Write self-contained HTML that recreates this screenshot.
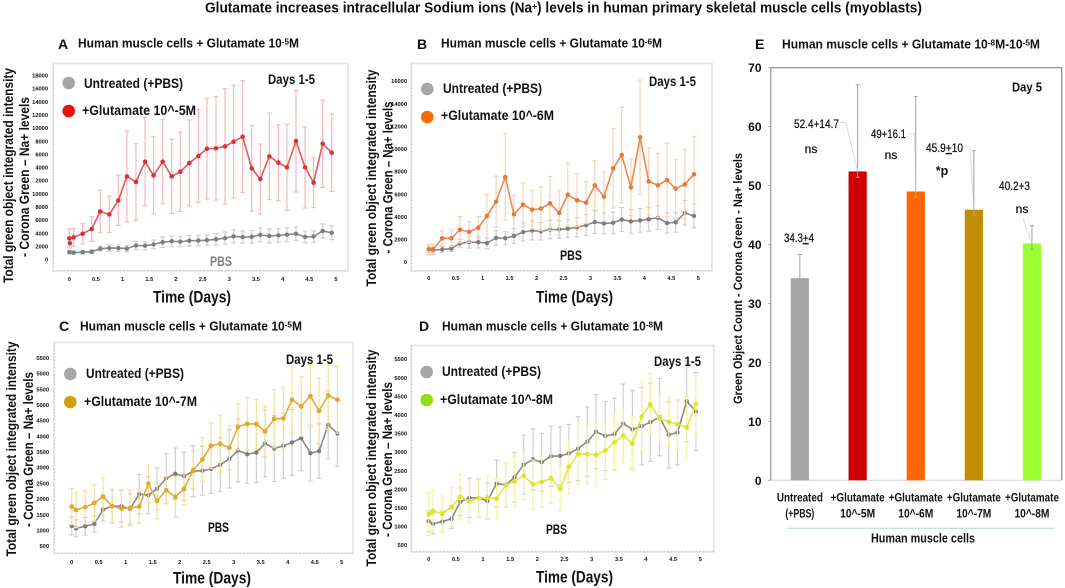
<!DOCTYPE html>
<html lang="en">
<head>
<meta charset="utf-8">
<title>Glutamate increases intracellular Sodium ions</title>
<style>
html,body{margin:0;padding:0;background:#fff;width:1065px;height:588px;overflow:hidden}
svg{display:block;filter:blur(0.35px)}
text{font-family:"Liberation Sans",Arial,sans-serif;font-weight:bold;fill:#111}
.tk{font-size:5.7px;fill:#111}
.yt{font-size:13.5px}
.hd{font-size:12.5px}
.lg{font-size:14px}
.tm{font-size:17px}
.ann{font-size:12px;font-weight:normal;stroke:#111;stroke-width:.25}
.xc{font-size:12px}
</style>
</head>
<body>
<svg id="fig" xmlns="http://www.w3.org/2000/svg" width="1065" height="588" viewBox="0 0 1065 588">
<rect x="0" y="0" width="1065" height="588" fill="#fff"/>
<text x="205" y="12.5" font-size="14.5" textLength="717" lengthAdjust="spacingAndGlyphs">Glutamate increases intracellular Sodium ions (Na<tspan dy="-3" font-size="9">+</tspan><tspan dy="3">) levels in human primary skeletal muscle cells (myoblasts)</tspan></text>

<text x="58" y="49" font-size="14">A</text>
<text class="hd" x="78" y="47.5" textLength="221" lengthAdjust="spacingAndGlyphs">Human muscle cells + Glutamate 10<tspan dy="-3" font-size="8.5">-5</tspan><tspan dy="3">M</tspan></text>
<text x="417" y="49" font-size="14">B</text>
<text class="hd" x="441" y="47.5" textLength="221" lengthAdjust="spacingAndGlyphs">Human muscle cells + Glutamate 10<tspan dy="-3" font-size="8.5">-6</tspan><tspan dy="3">M</tspan></text>
<text x="59" y="331" font-size="14">C</text>
<text class="hd" x="80" y="330.5" textLength="222" lengthAdjust="spacingAndGlyphs">Human muscle cells + Glutamate 10<tspan dy="-3" font-size="8.5">-5</tspan><tspan dy="3">M</tspan></text>
<text x="419" y="331" font-size="14">D</text>
<text class="hd" x="442" y="330.5" textLength="221" lengthAdjust="spacingAndGlyphs">Human muscle cells + Glutamate 10<tspan dy="-3" font-size="8.5">-8</tspan><tspan dy="3">M</tspan></text>
<text x="755" y="49" font-size="14">E</text>
<text class="hd" x="782" y="48.5" textLength="258" lengthAdjust="spacingAndGlyphs">Human muscle cells + Glutamate 10<tspan dy="-3" font-size="8.5">-8</tspan><tspan dy="3">M-10</tspan><tspan dy="-3" font-size="8.5">-5</tspan><tspan dy="3">M</tspan></text>

<g id="panels"></g>
<g id="bars"></g>

<!-- axis titles -->
<text class="yt" transform="translate(13,175.5) rotate(-90)" text-anchor="middle" textLength="215" lengthAdjust="spacingAndGlyphs">Total green object integrated intensity</text>
<text class="yt" transform="translate(29,177) rotate(-90)" text-anchor="middle" textLength="160" lengthAdjust="spacingAndGlyphs">- Corona Green – Na+ levels</text>
<text class="yt" transform="translate(376,178) rotate(-90)" text-anchor="middle" textLength="217" lengthAdjust="spacingAndGlyphs">Total green object integrated intensity</text>
<text class="yt" transform="translate(392.5,177.5) rotate(-90)" text-anchor="middle" textLength="152" lengthAdjust="spacingAndGlyphs">- Corona Green – Na+ levels</text>
<text class="yt" transform="translate(16,449) rotate(-90)" text-anchor="middle" textLength="215" lengthAdjust="spacingAndGlyphs">Total green object integrated intensity</text>
<text class="yt" transform="translate(33,449.5) rotate(-90)" text-anchor="middle" textLength="155" lengthAdjust="spacingAndGlyphs">- Corona Green – Na+ levels</text>
<text class="yt" transform="translate(376,458) rotate(-90)" text-anchor="middle" textLength="217" lengthAdjust="spacingAndGlyphs">Total green object integrated intensity</text>
<text class="yt" transform="translate(392,459.5) rotate(-90)" text-anchor="middle" textLength="155" lengthAdjust="spacingAndGlyphs">- Corona Green – Na+ levels</text>
<text font-size="11.5" transform="translate(742,278.5) rotate(-90)" text-anchor="middle" textLength="251" lengthAdjust="spacingAndGlyphs">Green Object Count - Corona Green - Na+ levels</text>

<text class="tm" x="153" y="302.5" textLength="78" lengthAdjust="spacingAndGlyphs">Time (Days)</text>
<text class="tm" x="536" y="302.5" textLength="77" lengthAdjust="spacingAndGlyphs">Time (Days)</text>
<text class="tm" x="173" y="583.5" textLength="78" lengthAdjust="spacingAndGlyphs">Time (Days)</text>
<text class="tm" x="536" y="582.5" textLength="77" lengthAdjust="spacingAndGlyphs">Time (Days)</text>

<!-- legends -->
<g>
<circle cx="68.7" cy="83" r="6.3" fill="#a6a6a6"/>
<text class="lg" x="84" y="88" textLength="99" lengthAdjust="spacingAndGlyphs">Untreated (+PBS)</text>
<circle cx="68.7" cy="111" r="6.3" fill="#ee0f0f"/>
<text class="lg" x="82" y="115" textLength="114" lengthAdjust="spacingAndGlyphs">+Glutamate 10^-5M</text>
<text class="lg" x="268" y="84" textLength="47" lengthAdjust="spacingAndGlyphs">Days 1-5</text>
<text class="lg" x="210" y="266" textLength="22" lengthAdjust="spacingAndGlyphs" style="fill:#808080">PBS</text>
</g>
<g>
<circle cx="427.3" cy="89" r="6.3" fill="#a6a6a6"/>
<text class="lg" x="443" y="93" textLength="99" lengthAdjust="spacingAndGlyphs">Untreated (+PBS)</text>
<circle cx="427.3" cy="117" r="6.3" fill="#f96a00"/>
<text class="lg" x="441" y="120" textLength="113" lengthAdjust="spacingAndGlyphs">+Glutamate 10^-6M</text>
<text class="lg" x="649" y="86" textLength="47" lengthAdjust="spacingAndGlyphs">Days 1-5</text>
<text class="lg" x="560" y="260" textLength="22" lengthAdjust="spacingAndGlyphs">PBS</text>
</g>
<g>
<circle cx="70.3" cy="374" r="6.3" fill="#a6a6a6"/>
<text class="lg" x="86" y="378" textLength="98" lengthAdjust="spacingAndGlyphs">Untreated (+PBS)</text>
<circle cx="70.3" cy="402" r="6.3" fill="#cba30c"/>
<text class="lg" x="84" y="406" textLength="113" lengthAdjust="spacingAndGlyphs">+Glutamate 10^-7M</text>
<text class="lg" x="286" y="364" textLength="47" lengthAdjust="spacingAndGlyphs">Days 1-5</text>
<text class="lg" x="208" y="532" textLength="21" lengthAdjust="spacingAndGlyphs">PBS</text>
</g>
<g>
<circle cx="426.7" cy="372" r="6.3" fill="#a6a6a6"/>
<text class="lg" x="442" y="376" textLength="99" lengthAdjust="spacingAndGlyphs">Untreated (+PBS)</text>
<circle cx="426.7" cy="400" r="6.3" fill="#94dd10"/>
<text class="lg" x="440" y="404" textLength="113" lengthAdjust="spacingAndGlyphs">+Glutamate 10^-8M</text>
<text class="lg" x="654" y="366" textLength="47" lengthAdjust="spacingAndGlyphs">Days 1-5</text>
<text class="lg" x="546" y="534" textLength="21" lengthAdjust="spacingAndGlyphs">PBS</text>
</g>

<!-- bar annotations -->
<g>
<text font-size="12.5" x="1012" y="91.5" textLength="30" lengthAdjust="spacingAndGlyphs">Day 5</text>
<text class="ann" x="784" y="242" textLength="30" lengthAdjust="spacingAndGlyphs">34.3<tspan text-decoration="underline">+</tspan>4</text>
<text class="ann" x="794" y="128" textLength="45" lengthAdjust="spacingAndGlyphs">52.4+14.7</text>
<text class="ann" x="811" y="153" text-anchor="middle">ns</text>
<text class="ann" x="871" y="138" textLength="35" lengthAdjust="spacingAndGlyphs">49+16.1</text>
<text class="ann" x="891" y="159" text-anchor="middle">ns</text>
<text class="ann" x="926" y="152" textLength="37" lengthAdjust="spacingAndGlyphs">45.9<tspan text-decoration="underline">+</tspan>10</text>
<text font-size="12.5" x="942" y="175" text-anchor="middle">*p</text>
<text class="ann" x="999" y="190" textLength="31" lengthAdjust="spacingAndGlyphs">40.2+3</text>
<text class="ann" x="1022" y="213" text-anchor="middle">ns</text>
<line x1="787" y1="528.3" x2="1054" y2="528.3" stroke="#b9d2ea" stroke-width="1"/>
<text font-size="12.5" x="871" y="542.5" textLength="104" lengthAdjust="spacingAndGlyphs">Human muscle cells</text>
</g>
</svg>

<script>
// ---------- Time-course data ----------
var days = [0,0.08,0.25,0.42,0.58,0.75,0.92,1.08,1.25,1.42,1.58,1.75,1.92,2.08,2.25,2.42,2.58,2.75,2.92,3.08,3.25,3.42,3.58,3.75,3.92,4.08,4.25,4.42,4.58,4.75,4.92];
var untreatedMean = [1149,1074,1138,1213,1670,1777,1777,1691,2160,2128,2330,2670,2809,2734,2894,2904,2968,3096,3287,3553,3436,3489,3777,3617,3702,3809,3947,3468,3532,4372,4096];
var untreatedErr = [280,270,280,260,370,530,510,480,630,590,665,790,825,770,810,780,780,860,930,995,930,965,1060,1050,1040,1050,1040,890,870,1085,1050];
var glut5Mean = [3246,3398,3956,4666,7354,6898,9028,12680,11818,14912,12832,14912,12680,13390,14709,15774,16890,16940,17245,17955,18716,13897,12274,15723,14760,14049,18056,14049,11716,17651,16281];
var glut5Err = [1445,1318,1521,1877,3246,2790,3804,6949,5833,6695,5884,6391,5630,6036,6543,7050,7659,7862,8775,8572,8521,6492,5326,6594,5782,6543,7760,6188,3804,6644,5884];
var glut6Mean = [1149,1149,2121,2121,2887,2680,3063,4094,5361,7540,4242,5096,4654,4742,5214,4359,5979,5479,5272,6804,5803,8306,9484,6627,11046,7158,6804,7275,6510,6893,7776];
var glut6Err = [471,471,648,707,1149,913,972,1915,2268,3800,1679,1915,1708,1944,2386,1973,2798,2327,1856,2180,2180,3505,4212,2504,5066,2946,2828,3240,2592,3063,3328];
var glut7Mean = [1766,1660,1745,1883,2085,1777,1702,1723,1766,2500,1947,2287,2074,2330,2926,3266,3702,3766,3638,4309,4404,4394,4160,4564,4574,5170,4957,5287,4819,5309,5170];
var glut7Err = [574,564,532,574,585,543,596,574,532,585,564,436,649,500,596,702,723,915,702,734,830,777,798,926,989,1043,947,1000,1043,1085,1064];
var glut8Mean = [1341,1422,1341,1530,1808,1682,1772,1781,1754,2122,2221,2373,2140,2203,2302,2014,2607,2957,2948,2930,3047,3271,3451,3235,3962,4286,3918,3819,3756,3666,4295];
var glut8Err = [575,566,485,521,601,575,485,584,548,601,664,646,655,682,673,611,727,826,790,853,781,763,736,727,916,826,673,664,655,817,817];
var xTickValues = [0,0.5,1,1.5,2,2.5,3,3.5,4,4.5,5];
var xTickLabels = ['0','0.5','1','1.5','2','2.5','3','3.5','4','4.5','5'];
var yTicksA = [0,2000,4000,6000,8000,10000,12000,14000,16000,18000,20000,22000,24000,26000,28000];
var yLabelsA = ['0','2000','4000','6000','8000','10000','2000','4000','6000','8000','10000','12000','14000','16000','18000'];
var yTicksB = [0,2000,4000,6000,8000,10000,12000,14000,16000];
var yLabelsB = ['0','2000','4000','6000','8000','10000','12000','14000','16000'];
var yTicksC = [500,1000,1500,2000,2500,3000,3500,4000,4500,5000,5500,6000,6500];
var yLabelsC = ['500','1000','1500','2000','2500','3000','3500','4000','4500','5000','5500','5000','5500'];
var yTicksD = [500,1000,1500,2000,2500,3000,3500,4000,4500,5000,5500];
var yLabelsD = ['500','1000','1500','2000','2500','3000','3500','4000','4500','5000','5500'];

// ---------- Bar chart data ----------
var barLines1 = ['Untreated','+Glutamate','+Glutamate','+Glutamate','+Glutamate'];
var barLines2 = ['(+PBS)','10^-5M','10^-6M','10^-7M','10^-8M'];
var barValues = [34.3,52.4,49,45.9,40.2];
var barUpperErr = [4,14.7,16.1,10,3];
var barLowerErr = [1,1,1,1,1];
var barTicks = [0,10,20,30,40,50,60,70];

// ---------- Drawing ----------
var NS = 'http://www.w3.org/2000/svg';
function mk(parent, tag, attrs, txt) {
  var el = document.createElementNS(NS, tag);
  for (var k in attrs) el.setAttribute(k, attrs[k]);
  if (txt !== undefined) el.textContent = txt;
  parent.appendChild(el);
  return el;
}
function linear(d0, d1, r0, r1) {
  return function (v) { return r0 + (v - d0) * (r1 - r0) / (d1 - d0); };
}

function drawSeries(g, xs, ys, mean, err, st, key) {
  var i, el;
  for (i = 0; i < days.length; i++) {
    var cx = xs(days[i]), hi = ys(mean[i] + err[i]), lo = ys(mean[i] - err[i]);
    el = mk(g, 'path', {d: 'M' + cx + ' ' + hi + 'V' + lo + 'M' + (cx - 2.4) + ' ' + hi + 'H' + (cx + 2.4) + 'M' + (cx - 2.4) + ' ' + lo + 'H' + (cx + 2.4), stroke: st.err, 'stroke-width': 1.2, fill: 'none'});
    
    
  }
  var pts = days.map(function (t, j) { return xs(t) + ',' + ys(mean[j]); }).join(' ');
  el = mk(g, 'polyline', {points: pts, fill: 'none', stroke: st.line, 'stroke-width': 1.6});
  
  
  for (i = 0; i < days.length; i++) {
    el = mk(g, 'circle', {cx: xs(days[i]), cy: ys(mean[i]), r: st.r, fill: st.dot});
    
    
  }
}

function drawPanel(p) {
  var root = document.getElementById('panels');
  var g = mk(root, 'g', {});
  
  
  var xs = linear(0, 5, p.x0, p.x5);
  var ys = linear(p.yTicks[0], p.yTicks[p.yTicks.length - 1], p.yBottom, p.yTop);
  var el = mk(g, 'rect', {x: p.bx, y: p.by, width: p.bw, height: p.bh, fill: '#fff', stroke: '#e3e3e3', 'stroke-width': 1.6});
  
  
  el = mk(g, 'path', {d: 'M' + (p.bx + 0.8) + ' ' + p.by + 'V' + (p.by + p.bh - 0.5) + 'H' + (p.bx + p.bw), fill: 'none', stroke: '#b5b5b5', 'stroke-width': 0.8, 'stroke-dasharray': '1 2.5'});
  
  
  p.yTicks.forEach(function (v, i) {
    var t = mk(g, 'text', {'class': 'tk', x: p.labelX, y: ys(v) + 1.9, 'text-anchor': 'end'}, p.yLabels[i]);
    
    
  });
  xTickValues.forEach(function (v, i) {
    var t = mk(g, 'text', {'class': 'tk', x: xs(v), y: p.xLabelY, 'text-anchor': 'middle'}, xTickLabels[i]);
    
    
  });
  drawSeries(g, xs, ys, untreatedMean, untreatedErr, {err: '#cfcfcf', line: '#8a8a8a', dot: '#7d7d7d', r: 2.2}, 'untreated');
  drawSeries(g, xs, ys, p.mean, p.err, p.style, p.key);
}

drawPanel({name: 'panel-a', key: 'glutamate-10-5m', mean: glut5Mean, err: glut5Err,
  style: {err: '#f5b9bb', line: '#dc5a62', dot: '#d9303c', r: 2.3},
  x0: 69.3, x5: 336, yBottom: 259.7, yTop: 75.7, bx: 53, by: 63.5, bw: 295, bh: 207.5,
  yTicks: yTicksA, yLabels: yLabelsA, labelX: 48, xLabelY: 281});
drawPanel({name: 'panel-b', key: 'glutamate-10-6m', mean: glut6Mean, err: glut6Err,
  style: {err: '#f8d3b8', line: '#e98a52', dot: '#e8793a', r: 2.3},
  x0: 428.7, x5: 698.3, yBottom: 262.3, yTop: 81.3, bx: 411, by: 63.5, bw: 301, bh: 207.5,
  yTicks: yTicksB, yLabels: yLabelsB, labelX: 407, xLabelY: 280});
drawPanel({name: 'panel-c', key: 'glutamate-10-7m', mean: glut7Mean, err: glut7Err,
  style: {err: '#f5df9f', line: '#e3ac38', dot: '#e3a92e', r: 2.4},
  x0: 71.7, x5: 341.7, yBottom: 546.3, yTop: 358, bx: 54, by: 342.5, bw: 299, bh: 211,
  yTicks: yTicksC, yLabels: yLabelsC, labelX: 49, xLabelY: 564});
drawPanel({name: 'panel-d', key: 'glutamate-10-8m', mean: glut8Mean, err: glut8Err,
  style: {err: '#f3f3a4', line: '#e2e641', dot: '#dfe42c', r: 2.4},
  x0: 428.7, x5: 700.3, yBottom: 545.3, yTop: 359.3, bx: 411, by: 345.5, bw: 303, bh: 206.5,
  yTicks: yTicksD, yLabels: yLabelsD, labelX: 407, xLabelY: 561});

// Extra marker drawn at t=0 in panel A, as in the source figure
var panelAExtraValue = 2500;
(function () {
  var g = document.getElementById('panels').children[0];
  var xs = linear(0, 5, 69.3, 336), ys = linear(0, 28000, 259.7, 75.7);
  var el = mk(g, 'circle', {cx: xs(days[0]) + 0.6, cy: ys(panelAExtraValue), r: 2.3, fill: '#d9303c'});
  
  
})();

// Bar chart E
(function () {
  var g = document.getElementById('bars');
  var y = linear(0, 70, 480.3, 67.7);
  var slots = linear(0, 5, 771, 1061.5);
  var fills = ['#a6a6a6', '#cc0000', '#ff6600', '#bf8f00', '#99ff33'];
  var el = mk(g, 'path', {d: 'M770.7 ' + y(70) + 'H1061.7V' + y(0), fill: 'none', stroke: '#999', 'stroke-width': 1.4});
  
  
  el = mk(g, 'line', {x1: 770.7, y1: y(70), x2: 770.7, y2: y(0), stroke: '#aaa', 'stroke-width': 1.5});
  
  
  el = mk(g, 'line', {x1: 770.7, y1: y(0), x2: 1061.7, y2: y(0), stroke: '#d4d4d4', 'stroke-width': 1});
  
  
  barTicks.forEach(function (v) {
    var tick = mk(g, 'line', {x1: 768, x2: 771, y1: y(v), y2: y(v), stroke: '#a0a0a0', 'stroke-width': 0.8});
    
    
    var t = mk(g, 'text', {x: 761.5, y: y(v) + 4.5, 'text-anchor': 'end', 'font-size': 12}, String(v));
    
    
  });
  barValues.forEach(function (v, i) {
    var cx = slots(i + 0.5) - 0.5 + (i === 0 ? 0.3 : 0);
    var bar = mk(g, 'rect', {x: cx - 9.1, y: y(v), width: 18.2, height: y(0) - y(v), fill: fills[i]});
    
    
    var hi = y(v + barUpperErr[i]), lo = y(v - barLowerErr[i]);
    var eb = mk(g, 'path', {d: 'M' + cx + ' ' + hi + 'V' + lo + 'M' + (cx - 2) + ' ' + hi + 'H' + (cx + 2) + 'M' + (cx - 2) + ' ' + lo + 'H' + (cx + 2), stroke: '#a3a3a3', 'stroke-width': 1, fill: 'none'});
    
    
    var t1 = mk(g, 'text', {'class': 'xc', x: cx, y: 501.5, 'text-anchor': 'middle', textLength: i === 0 ? 46 : 54, lengthAdjust: 'spacingAndGlyphs'}, barLines1[i]);
    
    
    var t2 = mk(g, 'text', {'class': 'xc', x: cx, y: 517.5, 'text-anchor': 'middle', textLength: i === 0 ? 29 : 35, lengthAdjust: 'spacingAndGlyphs'}, barLines2[i]);
    
    
  });
  var leaderStarts = [null, [840, 122, 846, 123], [909, 134, 914.5, 134], [965, 146, 970, 147], [1023, 218, 1023, 218]];
  leaderStarts.forEach(function (s, i) {
    if (!s) return;
    var cx = slots(i + 0.5) - 0.5;
    var l = mk(g, 'polyline', {points: s[0] + ',' + s[1] + ' ' + s[2] + ',' + s[3] + ' ' + cx + ',' + y(barValues[i]), fill: 'none', stroke: '#cfcfcf', 'stroke-width': 0.7});
    
    
  });
})();
</script>
</body>
</html>
